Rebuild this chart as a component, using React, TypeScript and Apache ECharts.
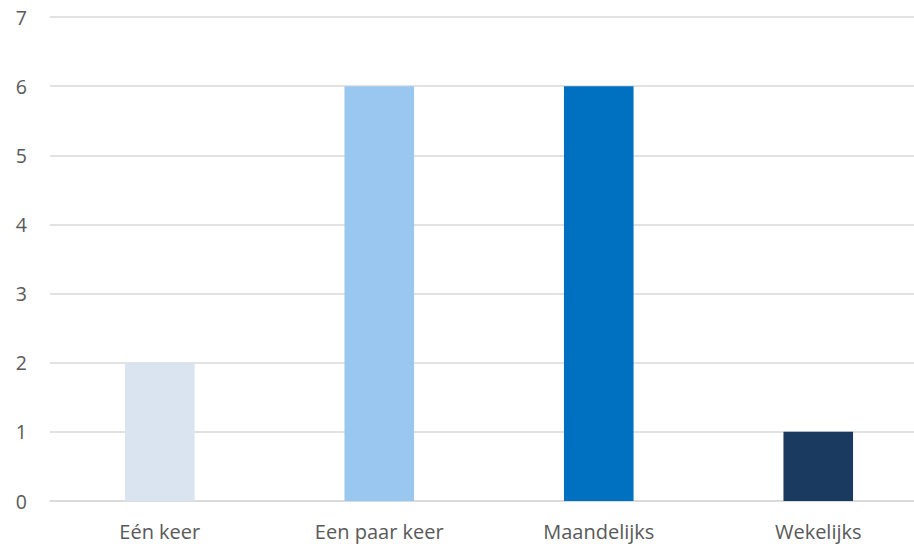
import React, { useEffect, useRef } from "react";
import * as echarts from "echarts";

const categories = ["Eén keer", "Een paar keer", "Maandelijks", "Wekelijks"];
const values = [2, 6, 6, 1];
const colors = ["#dae3f0", "#9ac7ef", "#0070c0", "#1b3a5f"];

export default function App() {
  const ref = useRef<HTMLDivElement>(null);
  useEffect(() => {
    const chart = echarts.init(ref.current!, undefined, { renderer: "svg" });
    chart.setOption({
      animation: false,
      grid: { left: 50, right: 0, top: 17, bottom: 43, containLabel: false },
      xAxis: {
        type: "category",
        data: categories,
        axisLine: { show: true, lineStyle: { color: "#d9d9d9", width: 1.5 } },
        axisTick: { show: false },
        axisLabel: {
          color: "#595959",
          fontSize: 20,
          lineHeight: 21,
          fontFamily: "Open Sans",
          margin: 20,
        },
      },
      yAxis: {
        type: "value",
        min: 0,
        max: 7,
        interval: 1,
        axisLine: { show: false },
        axisTick: { show: false },
        splitLine: { lineStyle: { color: "#d9d9d9", width: 1.5 } },
        axisLabel: { color: "#595959", fontSize: 19.5, fontFamily: "Open Sans", margin: 23 },
      },
      series: [
        {
          type: "bar",
          barWidth: "31.7%",
          data: values.map((v, i) => ({ value: v, itemStyle: { color: colors[i] } })),
        },
      ],
    });
    return () => chart.dispose();
  }, []);
  return (
    <div
      style={{ position: "fixed", left: 0, top: 0, width: 914, height: 544, overflow: "hidden", background: "#fff" }}
    >
      <div ref={ref} style={{ width: 928, height: 544 }} />
    </div>
  );
}
